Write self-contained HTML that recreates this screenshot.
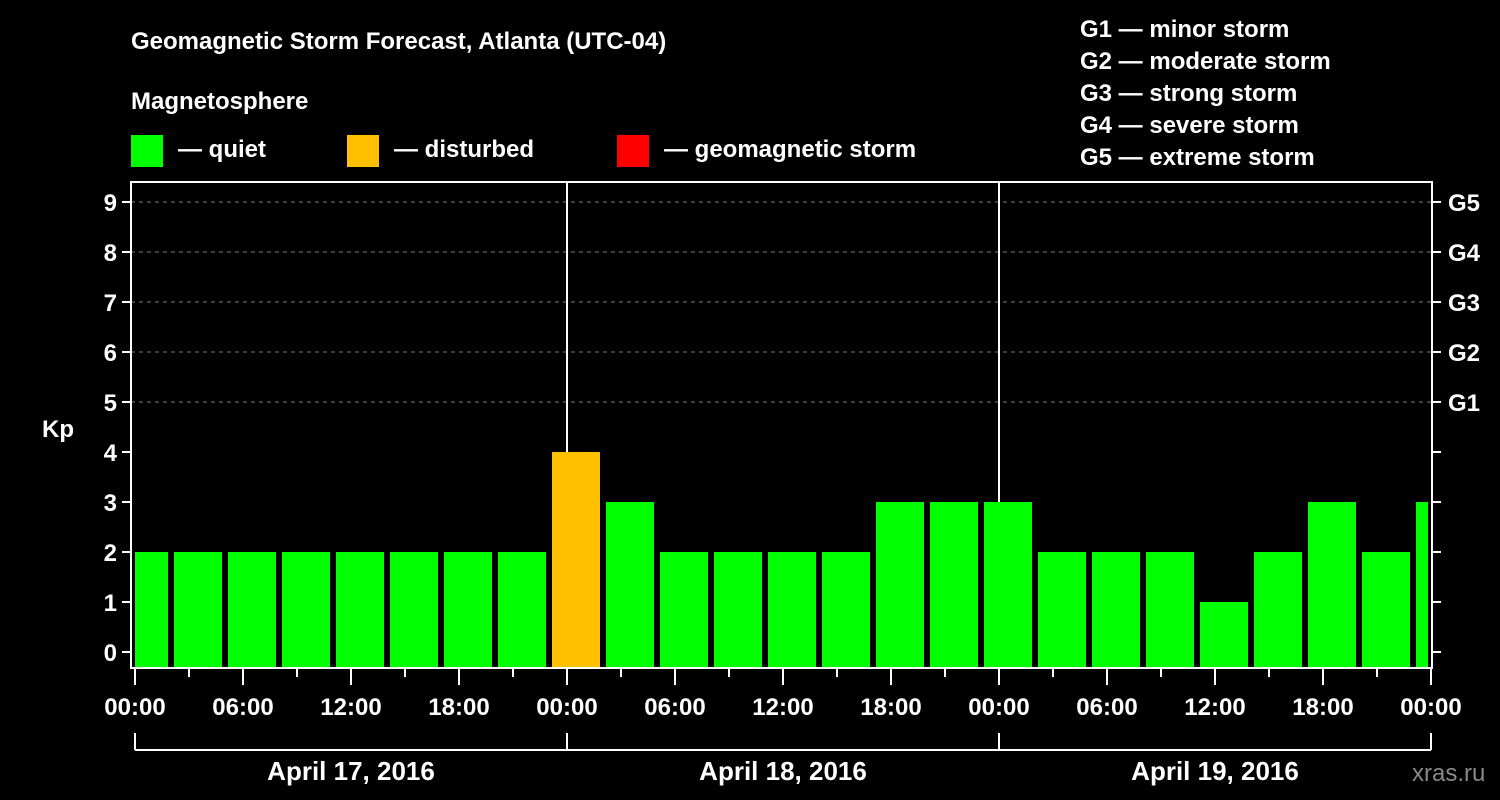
<!DOCTYPE html>
<html><head><meta charset="utf-8"><style>
html,body{margin:0;padding:0;background:#000;}
svg{display:block;font-family:"Liberation Sans",Arial,sans-serif;font-weight:bold;}
</style></head><body>
<svg id="chart" width="1500" height="800" viewBox="0 0 1500 800">
<rect width="1500" height="800" fill="#000"/>
<text x="131" y="49" fill="#fff" font-size="24">Geomagnetic Storm Forecast, Atlanta (UTC-04)</text>
<text x="131" y="109" fill="#fff" font-size="24">Magnetosphere</text>
<g><rect x="131" y="135" width="32" height="32" fill="#00ff00"/><text x="178" y="157" fill="#fff" font-size="24">— quiet</text></g>
<g><rect x="347" y="135" width="32" height="32" fill="#ffc000"/><text x="394" y="157" fill="#fff" font-size="24">— disturbed</text></g>
<g><rect x="617" y="135" width="32" height="32" fill="#ff0000"/><text x="664" y="157" fill="#fff" font-size="24">— geomagnetic storm</text></g>
<g fill="#fff" font-size="24">
<text x="1080" y="37">G1 — minor storm</text>
<text x="1080" y="69">G2 — moderate storm</text>
<text x="1080" y="101">G3 — strong storm</text>
<text x="1080" y="133">G4 — severe storm</text>
<text x="1080" y="165">G5 — extreme storm</text>
</g>
<text x="42" y="437" fill="#fff" font-size="24">Kp</text>
<text x="1412" y="781" fill="#888" font-size="24" font-weight="normal">xras.ru</text>
<defs><clipPath id="pc"><rect x="135" y="182" width="1293" height="486"/></clipPath></defs>
<g id="grid"></g>
<g id="bars" clip-path="url(#pc)"></g>
<g id="axes"></g>
</svg>
<script>
const kpValues=[2,2,2,2,2,2,2,2,4,3,2,2,2,2,3,3,3,2,2,2,1,2,3,2,3];
const periodStartHour=-1;
const yTicks=[0,1,2,3,4,5,6,7,8,9];
const gLabels=["G1","G2","G3","G4","G5"];
const xTickLabels=["00:00","06:00","12:00","18:00","00:00","06:00","12:00","18:00","00:00","06:00","12:00","18:00","00:00"];
const dayLabels=["April 17, 2016","April 18, 2016","April 19, 2016"];
const NS="http://www.w3.org/2000/svg";
const X0=135,PXH=18,Y0=652,PXU=50,L=131,R=1432,T=182,B=668;
const xs=h=>X0+h*PXH, ys=v=>Y0-v*PXU;
function mk(tag,attrs,parent,text){const e=document.createElementNS(NS,tag);for(const k in attrs)e.setAttribute(k,attrs[k]);if(text!=null)e.textContent=text;parent.appendChild(e);return e;}
const grid=document.getElementById('grid'),bars=document.getElementById('bars'),axes=document.getElementById('axes');
yTicks.forEach(v=>{if(v>=5){const l=mk('line',{x1:L,x2:R,y1:ys(v),y2:ys(v),stroke:'#777','stroke-dasharray':'4,4'},grid);

}});
kpValues.forEach((v,i)=>{const h=periodStartHour+3*i;const c=v>=5?'#ff0000':(v>=4?'#ffc000':'#00ff00');
const r=mk('rect',{x:xs(h)+3,y:ys(v),width:48,height:B-ys(v),fill:c},bars);

});
// day separators
[1,2].forEach(d=>{const l=mk('line',{x1:xs(24*d),x2:xs(24*d),y1:T,y2:ys(kpValues[Math.round((24*d-periodStartHour)/3)-0]||0)>T?ys(Math.max(...[0])) :T,stroke:'#fff','stroke-width':2},axes);

});
// fix separators to stop at bar tops
[...axes.querySelectorAll('line')].forEach((l,i)=>{const h=24*(i+1);let top=B;kpValues.forEach((v,k)=>{const s=xs(periodStartHour+3*k)+3;if(xs(h)>=s&&xs(h)<=s+48)top=Math.min(top,ys(v));});l.setAttribute('y2',top);});
const frame=mk('rect',{x:L,y:T,width:R-L,height:B-T,fill:'none',stroke:'#fff','stroke-width':2},axes);


yTicks.forEach(v=>{mk('line',{x1:L-9,x2:L,y1:ys(v),y2:ys(v),stroke:'#fff','stroke-width':2},axes);mk('line',{x1:R,x2:R+9,y1:ys(v),y2:ys(v),stroke:'#fff','stroke-width':2},axes);
const t=mk('text',{x:L-14,y:ys(v)+9,fill:'#fff','font-size':24,'text-anchor':'end'},axes,String(v));

});
gLabels.forEach((g,i)=>{const t=mk('text',{x:R+16,y:ys(5+i)+9,fill:'#fff','font-size':24},axes,g);

});
for(let h=0;h<=72;h+=3){const major=h%6===0;mk('line',{x1:xs(h),x2:xs(h),y1:B,y2:B+(major?17:9),stroke:'#fff','stroke-width':2},axes);}
xTickLabels.forEach((s,i)=>{const t=mk('text',{x:xs(6*i),y:715,fill:'#fff','font-size':24,'text-anchor':'middle'},axes,s);

});
mk('line',{x1:xs(0),x2:xs(72),y1:750,y2:750,stroke:'#fff','stroke-width':2},axes);
for(let d=0;d<=3;d++)mk('line',{x1:xs(24*d),x2:xs(24*d),y1:733,y2:750,stroke:'#fff','stroke-width':2},axes);
dayLabels.forEach((s,i)=>{const t=mk('text',{x:xs(24*i+12),y:780,fill:'#fff','font-size':26,'text-anchor':'middle'},axes,s);

});
</script>
</body></html>
